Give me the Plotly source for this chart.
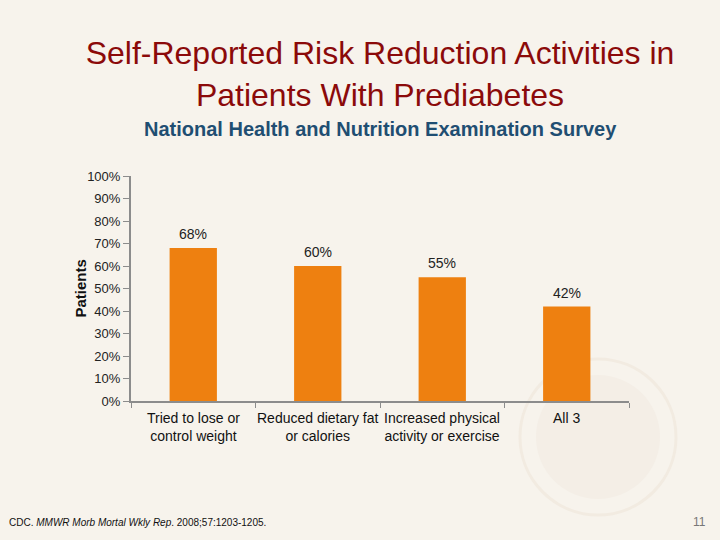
import plotly.graph_objects as go

categories = ["Tried to lose or<br>control weight", "Reduced dietary fat<br>or calories",
              "Increased physical<br>activity or exercise", "All 3"]
values = [0.68, 0.60, 0.55, 0.42]
labels = ["68%", "60%", "55%", "42%"]
tick_vals = [0, 0.1, 0.2, 0.3, 0.4, 0.5, 0.6, 0.7, 0.8, 0.9, 1.0]
tick_text = ["0%", "10%", "20%", "30%", "40%", "50%", "60%", "70%", "80%", "90%", "100%"]

positions = list(range(len(categories)))

fig = go.Figure()
fig.add_trace(go.Bar(
    x=positions, y=values,
    marker=dict(color="#EE8010", line=dict(width=0)),
    cliponaxis=False, hoverinfo="skip",
))

fig.update_layout(
    width=720, height=540,
    margin=dict(l=131, r=91, t=176, b=139),
    paper_bgcolor="#F7F3EC",
    plot_bgcolor="rgba(0,0,0,0)",
    bargap=0.62,
    showlegend=False,
    font=dict(family="Arial, Liberation Sans", color="#222222"),
    title=dict(
        text="Self-Reported Risk Reduction Activities in<br>Patients With Prediabetes",
        font=dict(family="Arial, Liberation Sans", size=32, color="#8B0A0A"),
        x=0.5, xanchor="center", xref="paper", y=1 - 64 / 540, yanchor="middle", yref="container",
    ),
    xaxis=dict(
        showline=True, linecolor="#8C8C8C", linewidth=2,
        ticks="outside", tickcolor="#8C8C8C", ticklen=5, tickwidth=1,
        tickmode="array", tickvals=[-0.5, 0.5, 1.5, 2.5, 3.5], ticktext=["", "", "", "", ""],
        range=[-0.5, 3.5], showgrid=False, zeroline=False, automargin=False,
    ),
    yaxis=dict(
        range=[0, 1], tickvals=tick_vals, ticktext=tick_text,
        showline=True, linecolor="#8C8C8C", linewidth=2,
        ticks="outside", tickcolor="#8C8C8C", ticklen=6, tickwidth=1,
        tickfont=dict(size=13, color="#222222"),
        showgrid=False, zeroline=False, automargin=False,
    ),
)

# faint seal watermark
fig.add_shape(type="circle", xref="paper", yref="paper",
              x0=(598 - 131 - 78) / 498, x1=(598 - 131 + 78) / 498,
              y0=(401 - 437 - 78) / 225, y1=(401 - 437 + 78) / 225,
              line=dict(color="#F2EBE1", width=3), fillcolor="rgba(0,0,0,0)", layer="below")
fig.add_shape(type="circle", xref="paper", yref="paper",
              x0=(598 - 131 - 62) / 498, x1=(598 - 131 + 62) / 498,
              y0=(401 - 437 - 62) / 225, y1=(401 - 437 + 62) / 225,
              line=dict(width=0), fillcolor="#F4EEE6", layer="below")

fig.add_annotation(text="<b>Patients</b>", xref="paper", yref="paper", x=0, xshift=-51,
                   y=0.5, textangle=-90, showarrow=False, xanchor="center", yanchor="middle",
                   font=dict(size=15, color="#111111"))

for i, c in enumerate(categories):
    fig.add_annotation(x=i, y=0, xref="x", yref="y", text=c, showarrow=False,
                       yanchor="top", yshift=-7, font=dict(size=14, color="#111111"),
                       align="center")

for i, (v, t) in enumerate(zip(values, labels)):
    fig.add_annotation(x=i, y=v, xref="x", yref="y", text=t, showarrow=False,
                       yanchor="bottom", yshift=4, font=dict(size=14, color="#222222"))

fig.add_annotation(text="<b>National Health and Nutrition Examination Survey</b>",
                   xref="paper", yref="paper", x=0.5, y=1.0, yshift=47,
                   xanchor="center", yanchor="middle", showarrow=False,
                   font=dict(size=20, color="#1F4E72"))

fig.add_annotation(text="CDC. <i>MMWR Morb Mortal Wkly Rep</i>. 2008;57:1203-1205.",
                   xref="paper", yref="paper", x=0, xshift=-124, y=0, yshift=-121,
                   xanchor="left", yanchor="middle", showarrow=False,
                   font=dict(size=10, color="#111111"))
fig.add_annotation(text="11", xref="paper", yref="paper", x=1, xshift=79, y=0, yshift=-121,
                   xanchor="right", yanchor="middle", showarrow=False,
                   font=dict(size=12, color="#777777"))

fig.write_html("out.html", config={"displayModeBar": False},
               post_script="document.body.style.margin='0';")
